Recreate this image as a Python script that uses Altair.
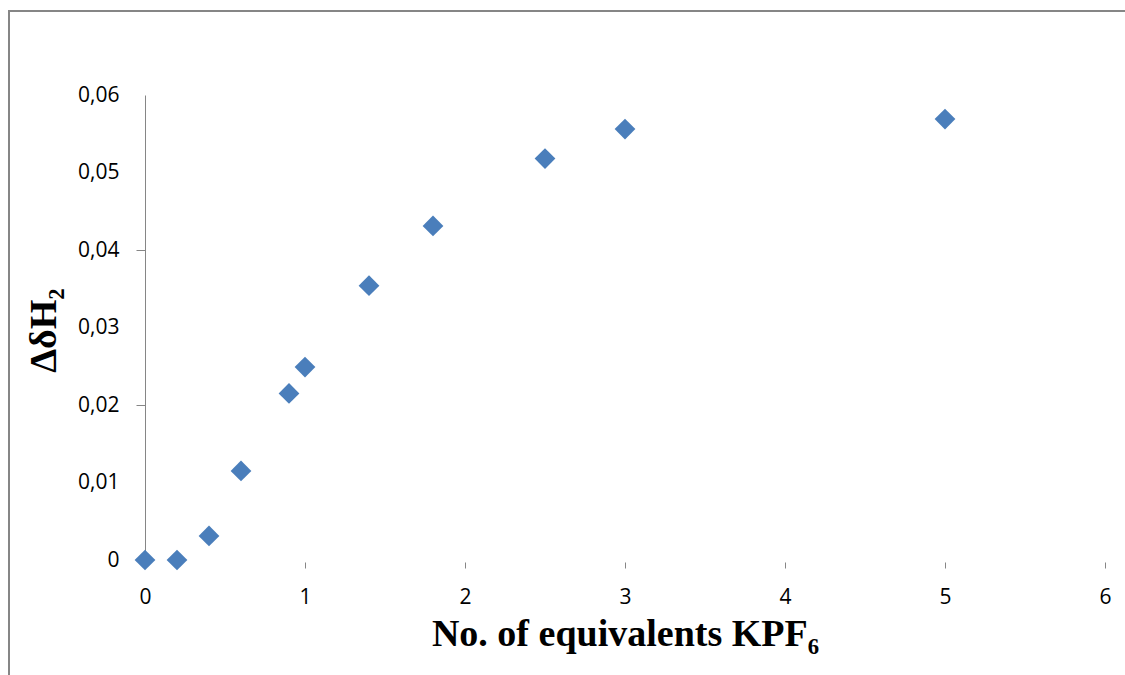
import altair as alt
import pandas as pd

equivalents = [0.0, 0.2, 0.4, 0.6, 0.9, 1.0, 1.4, 1.8, 2.5, 3.0, 5.0]
delta_h2 = [0.0, 0.0, 0.0031, 0.0115, 0.0215, 0.0249, 0.0354, 0.0431, 0.0518, 0.0556, 0.0569]

df = pd.DataFrame({"x": equivalents, "y": delta_h2})

AXIS_GRAY = "#868686"

y_label_expr = "datum.value == 0 ? '0' : replace(format(datum.value, '.2f'), '.', ',')"

points = alt.Chart(df).mark_point(
    shape="diamond", filled=True, size=430, color="#4A7EBB", opacity=1
).encode(
    x=alt.X(
        "x:Q",
        scale=alt.Scale(domain=[0, 6], nice=False, zero=True),
        axis=alt.Axis(
            title="No. of equivalents KPF₆",
            values=[0, 1, 2, 3, 4, 5, 6],
            domain=False,
            grid=False,
            ticks=True,
            tickSize=6,
            tickColor=AXIS_GRAY,
            offset=2,
            labelFont="Open Sans",
            labelFontSize=21,
            labelColor="#000000",
            labelPadding=18,
            labelFlush=False,
            titleFont="Liberation Serif",
            titleFontSize=38,
            titleFontWeight="bold",
            titleColor="#000000",
            titleBaseline="alphabetic",
            titleY=83,
        ),
    ),
    y=alt.Y(
        "y:Q",
        scale=alt.Scale(domain=[0, 0.06], nice=False),
        axis=alt.Axis(
            title="ΔδH₂",
            values=[0, 0.01, 0.02, 0.03, 0.04, 0.05, 0.06],
            labelExpr=y_label_expr,
            domain=True,
            domainColor=AXIS_GRAY,
            domainWidth=1,
            grid=False,
            ticks=True,
            tickSize=9,
            tickColor={
                "condition": {
                    "test": "abs(datum.value - 0.02) < 1e-6 || abs(datum.value - 0.04) < 1e-6",
                    "value": AXIS_GRAY,
                },
                "value": "transparent",
            },
            labelFont="Open Sans",
            labelFontSize=21,
            labelColor="#000000",
            labelPadding=17,
            labelFlush=False,
            titleFont="Liberation Serif",
            titleFontSize=38,
            titleFontWeight="bold",
            titleColor="#000000",
            titleAngle=-90,
            titleBaseline="middle",
            titleAlign="center",
            titleX=-101,
            titleY=235,
        ),
    ),
)

border_top = alt.Chart(df).mark_rule(color=AXIS_GRAY, strokeWidth=2, clip=False).encode(
    x=alt.value(-136), x2=alt.value(1100), y=alt.value(-84)
)
border_left = alt.Chart(df).mark_rule(color=AXIS_GRAY, strokeWidth=2, clip=False).encode(
    x=alt.value(-136), y=alt.value(-85), y2=alt.value(700)
)

chart = alt.layer(border_top, border_left, points).properties(
    width=960,
    height=465,
    padding={"left": 145, "top": 95, "right": 20, "bottom": 115},
    autosize=alt.AutoSizeParams(type="none"),
    background="white",
).configure_view(stroke=None)

chart.save("out.html", embed_options={"renderer": "svg", "actions": False})
